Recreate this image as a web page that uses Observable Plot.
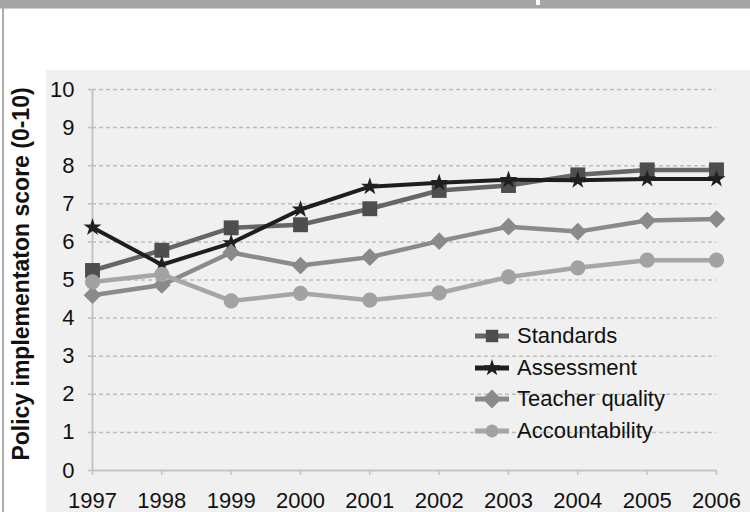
<!DOCTYPE html>
<html><head><meta charset="utf-8">
<script src="https://cdn.jsdelivr.net/npm/d3@7"></script>
<script src="https://cdn.jsdelivr.net/npm/@observablehq/plot@0.6"></script>
<style>
html,body{margin:0;padding:0;background:#fff;}
#wrap{position:relative;width:750px;height:512px;overflow:hidden;font-family:"Liberation Sans",Arial,Helvetica,sans-serif;}
#topbar{position:absolute;left:0;top:0;width:750px;height:8px;background:#a5a5a5;border-bottom:1px solid #cfcfcf;}
#notch{position:absolute;left:536px;top:0;width:4px;height:5px;background:#fff;}
#lborder{position:absolute;left:2px;top:8px;width:2px;height:504px;background:#ababab;}
#panel{position:absolute;left:46px;top:70px;width:704px;height:442px;background:#f0f0f0;}
#chart{position:absolute;left:0;top:0;}
#chart svg{background:transparent;overflow:visible;}
#legend{position:absolute;left:475px;top:320px;}
.row{display:flex;align-items:center;height:31.7px;font-size:22px;color:#111;white-space:nowrap;}
.row svg{margin-right:8px;display:block;}
</style></head><body>
<div id="wrap">
  <div id="topbar"></div><div id="notch"></div><div id="lborder"></div>
  <div id="panel"></div>
  <div id="chart"></div>
  <div id="legend"></div>
</div>
<script>
// ---- data ----
const years = [1997, 1998, 1999, 2000, 2001, 2002, 2003, 2004, 2005, 2006];
const standards      = [5.25, 5.78, 6.37, 6.45, 6.87, 7.35, 7.48, 7.76, 7.89, 7.89];
const assessment     = [6.38, 5.40, 5.97, 6.85, 7.45, 7.55, 7.63, 7.62, 7.65, 7.65];
const teacherQuality = [4.60, 4.87, 5.72, 5.38, 5.60, 6.02, 6.40, 6.27, 6.56, 6.60];
const accountability = [4.95, 5.15, 4.45, 4.65, 4.47, 4.66, 5.08, 5.32, 5.52, 5.52];
const seriesNames = ["Standards", "Assessment", "Teacher quality", "Accountability"];
const yTicks = [0, 1, 2, 3, 4, 5, 6, 7, 8, 9, 10];
const yLabel = "Policy implementaton score (0-10)";

// ---- styles ----
const seriesValues = [standards, assessment, teacherQuality, accountability];
const styles = {
  "Standards":       {line: "#666666", fill: "#4e4e4e", symbol: "square",   d3sym: d3.symbolSquare,   r: 8.4, w: 4.5, lr: 7},
  "Assessment":      {line: "#1e1e1e", fill: "#202020", symbol: "star",     d3sym: d3.symbolStar,     r: 5.6, w: 4,   lr: 5.4},
  "Teacher quality": {line: "#8a8a8a", fill: "#8a8a8a", symbol: "diamond2", d3sym: d3.symbolDiamond2, r: 8.0, w: 4.5, lr: 8.5},
  "Accountability":  {line: "#a6a6a6", fill: "#a2a2a2", symbol: "circle",   d3sym: d3.symbolCircle,   r: 7.6, w: 4.5, lr: 6.5}
};

const rows = seriesNames.flatMap((name, i) =>
  years.map((year, j) => ({series: name, year, value: seriesValues[i][j]})));

const seriesMarks = seriesNames.flatMap(name => {
  const s = styles[name];
  const data = rows.filter(d => d.series === name);
  return [
    Plot.line(data, {x: "year", y: "value", stroke: s.line, strokeWidth: s.w, strokeLinejoin: "round"}),
    Plot.dot(data, {x: "year", y: "value", symbol: s.symbol, r: s.r, fill: s.fill, stroke: "none"})
  ];
});

const chart = Plot.plot({
  width: 750, height: 512,
  marginLeft: 92, marginRight: 34, marginTop: 89, marginBottom: 42,
  style: {background: "transparent", fontFamily: "Liberation Sans, Arial, Helvetica, sans-serif", fontSize: "22px", color: "#111"},
  x: {domain: [1997, 2006]},
  y: {domain: [0, 10]},
  marks: [
    Plot.gridY(yTicks.filter(d => d > 0), {stroke: "#bcbcbc", strokeOpacity: 1, strokeWidth: 1.5, strokeDasharray: "4,3"}),
    Plot.axisY(yTicks, {tickSize: 7, tickPadding: 11, stroke: "#bcbcbc", strokeWidth: 1.5, strokeDasharray: "4,3", tickFormat: d => String(d), label: null, fill: "#111"}),
    Plot.axisX(years, {tickSize: 5, tickPadding: 17, stroke: "#c4c4c4", strokeWidth: 1.5, tickFormat: d => String(d), label: null, fill: "#111"}),
    Plot.ruleX([years[0]], {stroke: "#c4c4c4", strokeWidth: 2}),
    Plot.ruleY([0], {stroke: "#c4c4c4", strokeWidth: 2}),
    Plot.text([yLabel], {frameAnchor: "left", textAnchor: "middle", rotate: -90, dx: -71, dy: -6, fontWeight: "bold", fontSize: 23, fill: "#111"}),
    ...seriesMarks
  ]
});
document.getElementById("chart").appendChild(chart);

// ---- legend ----
const legend = d3.select("#legend");
seriesNames.forEach(name => {
  const s = styles[name];
  const row = legend.append("div").attr("class", "row");
  const svg = row.append("svg").attr("width", 34).attr("height", 24);
  svg.append("line").attr("x1", 0).attr("x2", 34).attr("y1", 12).attr("y2", 12)
    .attr("stroke", s.line).attr("stroke-width", 5);
  svg.append("path").attr("transform", "translate(17,12)")
    .attr("d", d3.symbol(s.d3sym, Math.PI * s.lr * s.lr)()).attr("fill", s.fill);
  row.append("span").text(name);
});
</script>
</body></html>
